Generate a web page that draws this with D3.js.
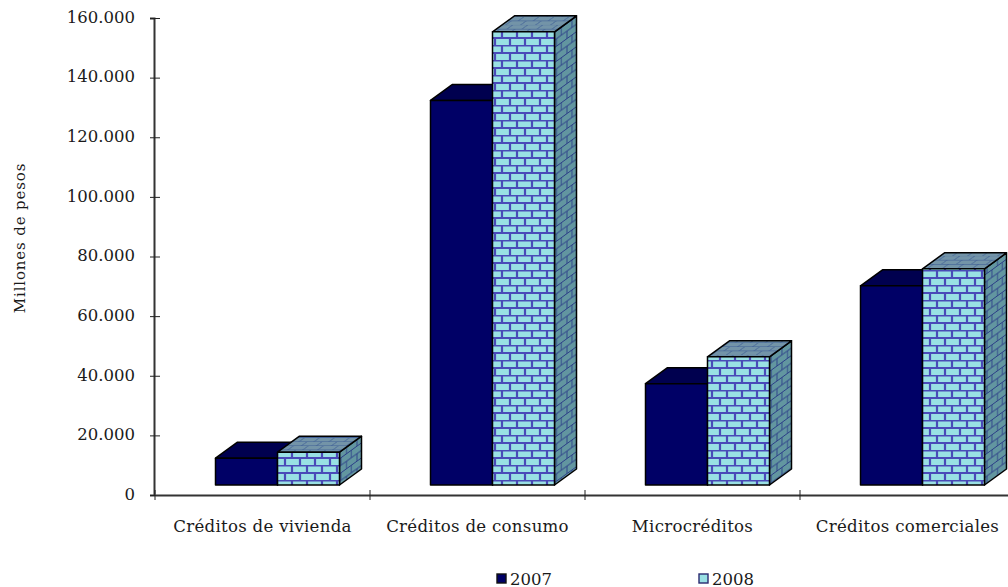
<!DOCTYPE html>
<html><head><meta charset="utf-8">
<script src="https://cdn.jsdelivr.net/npm/d3@7/dist/d3.min.js"></script>
<style>html,body{margin:0;padding:0;background:#fff;overflow:hidden}text{font-family:"DejaVu Serif",serif;fill:#1a1a1a}</style>
</head><body><svg id="c" width="1008" height="587"></svg>
<script>
const categories=["Créditos de vivienda","Créditos de consumo","Microcréditos","Créditos comerciales"];
const series2007=[9000,129000,34000,66800];
const series2008=[11000,152000,43000,72500];
const seriesNames=["2007","2008"];
const tickValues=[0,20000,40000,60000,80000,100000,120000,140000,160000];
const yTitle="Millones de pesos";

const svg=d3.select("#c");
const y=d3.scaleLinear().domain([0,160000]).range([495,18]);
const x=d3.scaleBand().domain(categories).range([155,1015]);
const barW=62,barShift=15,dx=22,dy=-16,lift=10;
const defs=svg.append("defs");
function brick(id,bg,line,lw,transform){
  const p=defs.append("pattern").attr("id",id).attr("patternUnits","userSpaceOnUse")
    .attr("width",30).attr("height",15);
  if(transform)p.attr("patternTransform",transform);
  p.append("rect").attr("width",30).attr("height",15).attr("fill",bg);
  p.append("path").attr("d","M0 0.5H30M0 8H30M7 0V8M22 0V8M0 8V15M15 8V15M30 8V15")
    .attr("stroke",line).attr("stroke-width",lw).attr("fill","none");
}
brick("front","#99e0e4","#4a4ab8",2.2);
brick("side","#6296a0","#2c3f88",1.2,"skewY(-36) scale(.7 1)");
brick("top","#7394a8","#3f5f96",1,"skewX(-54) scale(1 .55)");

const yAxis=svg.append("g").attr("transform","translate(154,0)")
  .call(d3.axisLeft(y).tickValues(tickValues).tickSize(4).tickPadding(15)
    .tickFormat(d=>d3.format(",")(d).replace(/,/g,".")));
yAxis.select(".domain").attr("stroke","#333").attr("stroke-width",2);
yAxis.selectAll(".tick line").attr("x1",-4).attr("x2",6).attr("stroke","#222");
yAxis.selectAll("text").attr("font-size",16.5).attr("font-family",'"DejaVu Serif",serif').attr("y",-1);

const xAxis=svg.append("g").attr("transform","translate(0,495)")
  .call(d3.axisBottom(x).tickSize(0).tickPadding(25));
xAxis.select(".domain").attr("stroke","#333").attr("stroke-width",2);
xAxis.selectAll(".tick text").attr("font-size",16.6).attr("letter-spacing",0.28).attr("font-family",'"DejaVu Serif",serif');
xAxis.selectAll(".edge").data(categories).enter().append("line").attr("class","edge")
  .attr("x1",d=>x(d)).attr("x2",d=>x(d)).attr("y1",-5).attr("y2",5).attr("stroke","#222");

const marks=svg.append("g").attr("stroke","#000").attr("stroke-width",1.5).attr("stroke-linejoin","round");
function bar(cat,val,idx,fFront,fTop,fSide){
  const x0=x(cat)+x.bandwidth()/2+barShift+(idx-1)*barW, x1=x0+barW;
  const top=y(val)-lift, base=y(0)-lift;
  const g=marks.append("g");
  g.append("path").attr("fill",fSide).attr("d",`M${x1} ${top}L${x1+dx} ${top+dy}L${x1+dx} ${base+dy}L${x1} ${base}Z`);
  g.append("path").attr("fill",fTop).attr("d",`M${x0} ${top}L${x0+dx} ${top+dy}L${x1+dx} ${top+dy}L${x1} ${top}Z`);
  g.append("rect").attr("x",x0).attr("y",top).attr("width",barW).attr("height",base-top).attr("fill",fFront);
}
categories.forEach((c,i)=>{
  bar(c,series2007[i],0,"#000066","#00004f","#00004f");
  bar(c,series2008[i],1,"url(#front)","url(#top)","url(#side)");
});

svg.append("text").attr("transform","translate(25,238) rotate(-90)").attr("text-anchor","middle")
  .attr("font-size",15).attr("letter-spacing",0.85).text(yTitle);

const lx=d3.scaleOrdinal().domain(seriesNames).range([497,699]);
const leg=svg.selectAll(".leg").data(seriesNames).enter().append("g").attr("class","leg")
  .attr("transform",d=>`translate(${lx(d)},574)`);
leg.append("rect").attr("width",9).attr("height",9).attr("stroke",(d,i)=>i?"#2a2a70":"#111").attr("stroke-width",1.4)
  .attr("fill",(d,i)=>i?"#99e0e4":"#000066");
leg.append("text").attr("x",13).attr("y",10.5).attr("font-size",16.5).text(d=>d);
</script></body></html>
